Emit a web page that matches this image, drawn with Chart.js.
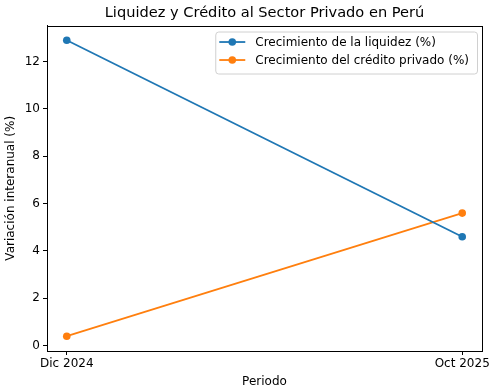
<!DOCTYPE html>
<html>
<head>
<meta charset="utf-8">
<script src="https://cdn.jsdelivr.net/npm/chart.js@4"></script>
<style>
  html, body { margin: 0; padding: 0; background: #fff; }
  #wrap { width: 497px; height: 391px; }
</style>
</head>
<body>
<div id="wrap"><canvas id="myChart" width="497" height="391"></canvas></div>
<script>
// data
const periods = ["Dic 2024", "Oct 2025"];
const liquidez = [12.9, 4.6];
const credito = [0.4, 5.6];
const yTicks = [0, 2, 4, 6, 8, 10, 12];

const FONT = "'DejaVu Sans', sans-serif";

// matplotlib-like full frame around the plot area
const framePlugin = {
  id: "frame",
  afterDatasetsDraw(chart) {
    const { ctx, chartArea: a } = chart;
    ctx.save();
    ctx.strokeStyle = "#000";
    ctx.lineWidth = 1;
    ctx.strokeRect(Math.round(a.left) + 0.5, Math.round(a.top) + 0.5,
      Math.round(a.right - a.left), Math.round(a.bottom - a.top));
    ctx.restore();
  }
};

// legend box in the upper right corner of the axes
const boxLegend = {
  id: "boxLegend",
  afterDatasetsDraw(chart) {
    const { ctx, chartArea: a } = chart;
    const sets = chart.data.datasets;
    ctx.save();
    ctx.font = "12px " + FONT;
    let w = 0;
    sets.forEach(d => { w = Math.max(w, ctx.measureText(d.label).width); });
    const boxW = w + 48, rowH = 18, boxH = sets.length * rowH + 6;
    const x = a.right - 5 - boxW, y = a.top + 6;
    ctx.fillStyle = "rgba(255,255,255,0.8)";
    ctx.strokeStyle = "#d0d0d0";
    ctx.lineWidth = 1;
    ctx.beginPath();
    ctx.roundRect(x + 0.5, y + 0.5, boxW, boxH, 3);
    ctx.fill();
    ctx.stroke();
    sets.forEach((d, i) => {
      const cy = y + 10.5 + i * rowH;
      ctx.strokeStyle = d.borderColor;
      ctx.lineWidth = 1.8;
      ctx.beginPath();
      ctx.moveTo(x + 4, cy);
      ctx.lineTo(x + 30, cy);
      ctx.stroke();
      ctx.fillStyle = d.borderColor;
      ctx.beginPath();
      ctx.arc(x + 17, cy, 3.8, 0, Math.PI * 2);
      ctx.fill();
      ctx.fillStyle = "#000";
      ctx.textBaseline = "middle";
      ctx.fillText(d.label, x + 40, cy + 0.5);
    });
    ctx.restore();
  }
};

const toPoints = vals => vals.map((v, i) => ({ x: i, y: v }));

const config = {
  type: "line",
  data: {
    datasets: [
      {
        label: "Crecimiento de la liquidez (%)",
        data: toPoints(liquidez),
        borderColor: "#1f77b4",
        backgroundColor: "#1f77b4",
        borderWidth: 1.8,
        pointRadius: 3.8,
        pointBorderWidth: 0
      },
      {
        label: "Crecimiento del crédito privado (%)",
        data: toPoints(credito),
        borderColor: "#ff7f0e",
        backgroundColor: "#ff7f0e",
        borderWidth: 1.8,
        pointRadius: 3.8,
        pointBorderWidth: 0
      }
    ]
  },
  options: {
    responsive: false,
    animation: false,
    layout: { padding: { left: 4, right: 15, top: 0, bottom: 2 } },
    plugins: {
      legend: { display: false },
      tooltip: { enabled: false },
      title: {
        display: true,
        fullSize: false,
        text: "Liquidez y Crédito al Sector Privado en Perú",
        color: "#000",
        font: { family: FONT, size: 14.6, weight: "normal" },
        padding: { top: 4, bottom: 4 }
      }
    },
    scales: {
      x: {
        type: "linear",
        min: -0.05,
        max: 1.05,
        afterBuildTicks: s => { s.ticks = periods.map((p, i) => ({ value: i })); },
        afterFit: s => { s.height = 38; },
        ticks: {
          color: "#000",
          font: { family: FONT, size: 12 },
          padding: 2,
          maxRotation: 0,
          callback: v => periods[v]
        },
        grid: { drawOnChartArea: false, drawTicks: true, tickLength: 4, color: "#000" },
        border: { display: true, color: "#000" },
        title: {
          display: true,
          text: "Periodo",
          color: "#000",
          font: { family: FONT, size: 12 },
          padding: { top: 2, bottom: 0 }
        }
      },
      y: {
        min: -0.225,
        max: 13.525,
        afterBuildTicks: s => { s.ticks = yTicks.map(v => ({ value: v })); },
        afterFit: s => { s.width = 43; },
        ticks: {
          color: "#000",
          font: { family: FONT, size: 12 },
          padding: 3
        },
        grid: { drawOnChartArea: false, drawTicks: true, tickLength: 4, color: "#000" },
        border: { display: true, color: "#000" },
        title: {
          display: true,
          text: "Variación interanual (%)",
          color: "#000",
          font: { family: FONT, size: 12 },
          padding: { top: 0, bottom: 2 }
        }
      }
    }
  },
  plugins: [framePlugin, boxLegend]
};

const myChart = new Chart(document.getElementById("myChart"), config);
</script>
</body>
</html>
